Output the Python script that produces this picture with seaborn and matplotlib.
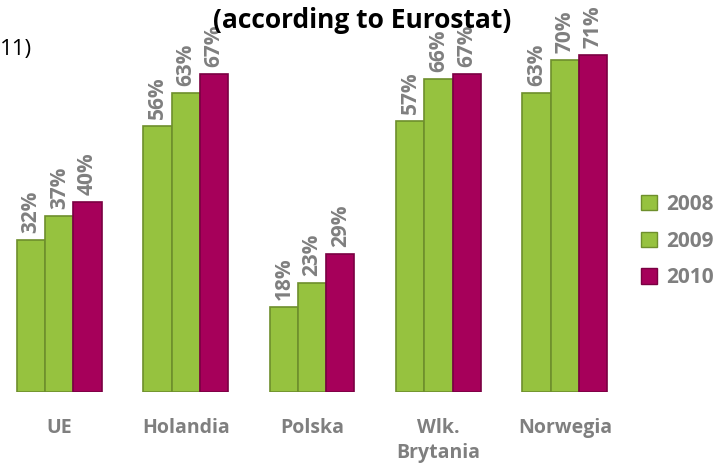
import numpy as np
import pandas as pd
import seaborn as sns
import matplotlib.pyplot as plt
from matplotlib.patches import Patch

# --- DATA ---
countries = ["UE", "Holandia", "Polska", "Wlk. Brytania", "Norwegia"]
tick_labels = ["UE", "Holandia", "Polska", "Wlk.\nBrytania", "Norwegia"]
years = ["2008", "2009", "2010"]
values_2008 = [32, 56, 18, 57, 63]
values_2009 = [37, 63, 23, 66, 70]
values_2010 = [40, 67, 29, 67, 71]

GREEN = "#96c23f"
MAGENTA = "#a6005a"
GRAY = "#7f7f7f"

# --- BUILD TABLE ---
rows = []
for year, vals in zip(years, [values_2008, values_2009, values_2010]):
    for c, v in zip(countries, vals):
        rows.append({"country": c, "year": year, "value": v})
df = pd.DataFrame(rows)

sns.set_style("white")
plt.rcParams["font.family"] = ["Open Sans", "DejaVu Sans"]

fig = plt.figure(figsize=(7.16, 4.69), dpi=100)
ax = fig.add_axes([0.0, 0.164, 628 / 716, 0.81])

palette = {"2008": GREEN, "2009": GREEN, "2010": MAGENTA}
edges = {"2008": "#6e8f2c", "2009": "#6e8f2c", "2010": "#7a0042"}
sns.barplot(data=df, x="country", y="value", hue="year", order=countries,
            hue_order=years, palette=palette, width=0.67, gap=0,
            linewidth=1.2, saturation=1, legend=False, ax=ax)

for container, year in zip(ax.containers, years):
    for bar in container:
        bar.set_edgecolor(edges[year])
    ax.bar_label(container, labels=[f"{int(v)}%" for v in container.datavalues],
                 rotation=90, padding=5, color=GRAY, fontsize=15,
                 fontweight="bold")

ax.set_xlim(-0.47, 4.5)
ax.set_ylim(0, 80)
ax.set_xlabel("")
ax.set_ylabel("")
ax.set_yticks([])
ax.set_xticks(range(len(countries)))
ax.set_xticklabels(tick_labels, fontsize=14, fontweight="bold", color=GRAY,
                   linespacing=1.3)
ax.tick_params(axis="x", length=0, pad=19)
sns.despine(ax=ax, left=True, bottom=True)

# legend at right
handles = [Patch(facecolor=palette[y], edgecolor=edges[y]) for y in years]
fig.legend(handles, years, loc="upper left",
           bbox_to_anchor=(641 / 716, 1 - 194 / 469), frameon=False,
           borderaxespad=0, borderpad=0, handlelength=0.75, handleheight=0.75,
           handletextpad=0.45, labelspacing=0.75,
           prop={"size": 15, "weight": "bold"}, labelcolor=GRAY)

# partially visible title and side text
fig.text(362 / 716, 1 - 21 / 469, "(according to Eurostat)", ha="center",
         va="center", fontsize=19, fontweight="bold", color="black")
fig.text(0.0, 1 - 50 / 469, "11)", ha="left", va="center", fontsize=16,
         color="black")

fig.savefig("out.png", dpi=100)
